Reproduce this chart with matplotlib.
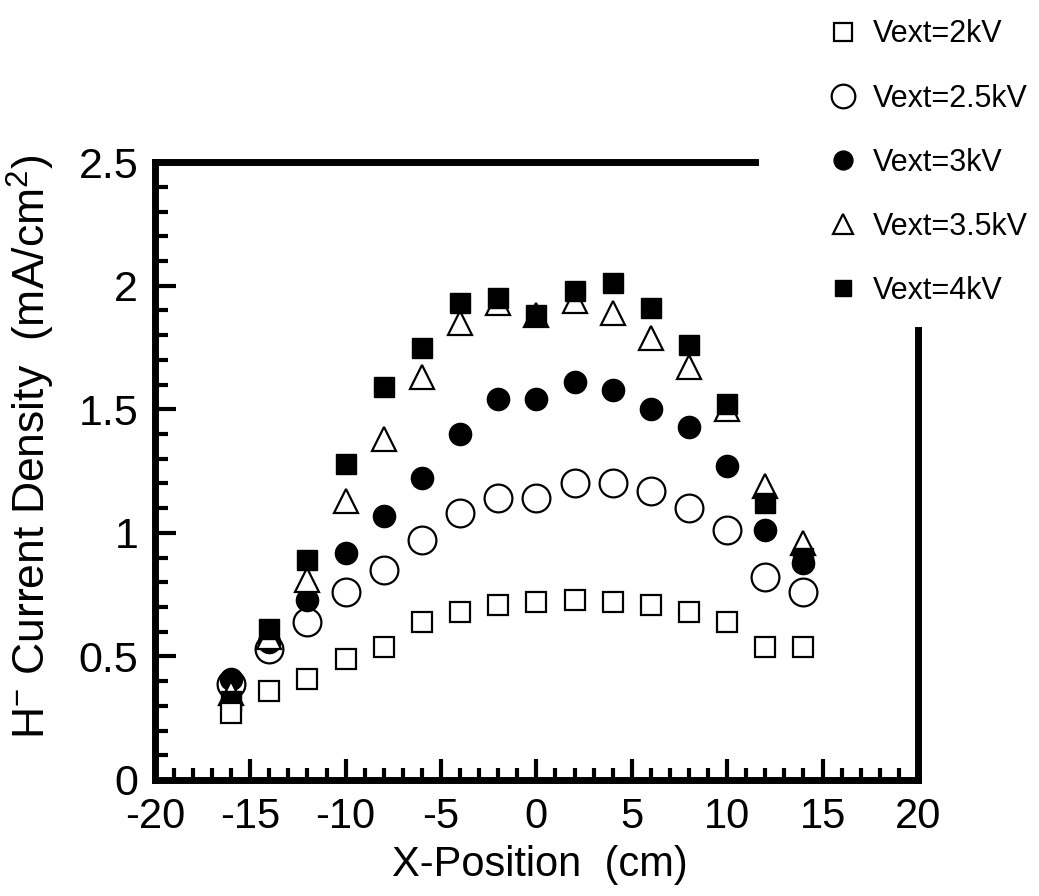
import matplotlib
matplotlib.use('Agg')
import matplotlib.pyplot as plt
from matplotlib.ticker import MultipleLocator

plt.rcParams['font.family'] = ['Liberation Sans', 'DejaVu Sans']
plt.rcParams['axes.unicode_minus'] = False
plt.rcParams['mathtext.fontset'] = 'custom'
plt.rcParams['mathtext.rm'] = 'Liberation Sans'

# X-position of the probe (cm)
x_pos = [-16, -14, -12, -10, -8, -6, -4, -2, 0, 2, 4, 6, 8, 10, 12, 14]

# H- current density (mA/cm2) per extraction voltage
vext_2 = [0.27, 0.36, 0.41, 0.49, 0.54, 0.64, 0.68, 0.71, 0.72, 0.73, 0.72, 0.71, 0.68, 0.64, 0.54, 0.54]
vext_25 = [0.39, 0.53, 0.64, 0.76, 0.85, 0.97, 1.08, 1.14, 1.14, 1.20, 1.20, 1.17, 1.10, 1.01, 0.82, 0.76]
vext_3 = [0.41, 0.56, 0.73, 0.92, 1.07, 1.22, 1.40, 1.54, 1.54, 1.61, 1.58, 1.50, 1.43, 1.27, 1.01, 0.88]
vext_35 = [0.35, 0.58, 0.81, 1.13, 1.38, 1.63, 1.85, 1.93, 1.88, 1.94, 1.89, 1.79, 1.67, 1.50, 1.19, 0.96]
vext_4 = [0.32, 0.61, 0.89, 1.28, 1.59, 1.75, 1.93, 1.95, 1.88, 1.98, 2.01, 1.91, 1.76, 1.52, 1.12, 0.90]

labels = ['Vext=2kV', 'Vext=2.5kV', 'Vext=3kV', 'Vext=3.5kV', 'Vext=4kV']

fig = plt.figure(figsize=(10.39, 8.96), dpi=100)
ax = fig.add_axes([0.149, 0.1295, 0.7345, 0.6895])

h1, = ax.plot(x_pos, vext_2, ls='none', marker='s', ms=15, mfc='white', mec='black', mew=1.6, zorder=6, label=labels[0])
h2, = ax.plot(x_pos, vext_25, ls='none', marker='o', ms=20, mfc='white', mec='black', mew=1.6, zorder=2, label=labels[1])
h3, = ax.plot(x_pos, vext_3, ls='none', marker='o', ms=16, mfc='black', mec='black', zorder=3, label=labels[2])
h4, = ax.plot(x_pos, vext_35, ls='none', marker='^', ms=17, mfc='white', mec='black', mew=1.6, zorder=4, label=labels[3])
h5, = ax.plot(x_pos, vext_4, ls='none', marker='s', ms=14, mfc='black', mec='black', zorder=5, label=labels[4])

ax.set_xlim(-20, 20)
ax.set_ylim(0, 2.5)
ax.xaxis.set_major_locator(MultipleLocator(5))
ax.xaxis.set_minor_locator(MultipleLocator(1))
ax.yaxis.set_major_locator(MultipleLocator(0.5))
ax.yaxis.set_minor_locator(MultipleLocator(0.1))
ax.yaxis.set_major_formatter(plt.FuncFormatter(lambda v, p: f'{v:g}'))

ax.tick_params(which='both', direction='in', top=False, right=False, width=3)
ax.tick_params(which='major', length=15)
ax.tick_params(which='minor', length=9)
ax.tick_params(axis='x', labelsize=30, pad=12)
ax.tick_params(axis='y', labelsize=31, pad=12)

for s in ax.spines.values():
    s.set_linewidth(5)
# frame is broken where the legend sits
ax.spines['top'].set_bounds(-20, 11.45)
ax.spines['right'].set_bounds(0, 1.82)

ax.set_xlabel('X-Position  (cm)', fontsize=30)
ax.set_ylabel('H$^{\\mathregular{-}}$ Current Density  (mA/cm$^{\\mathregular{2}}$)', fontsize=32)
ax.xaxis.set_label_coords(0.505, -0.105)
ax.yaxis.set_label_coords(-0.128, 0.54)

fig.legend(handles=[h1, h2, h3, h4, h5], loc='upper left',
           bbox_to_anchor=(812 / 1039, 1 - 4 / 896), frameon=False,
           fontsize=22, handlelength=1.0, handletextpad=0.5, borderpad=0,
           labelspacing=1.12, markerscale=0.85)

plt.savefig('out.png', dpi=100)
